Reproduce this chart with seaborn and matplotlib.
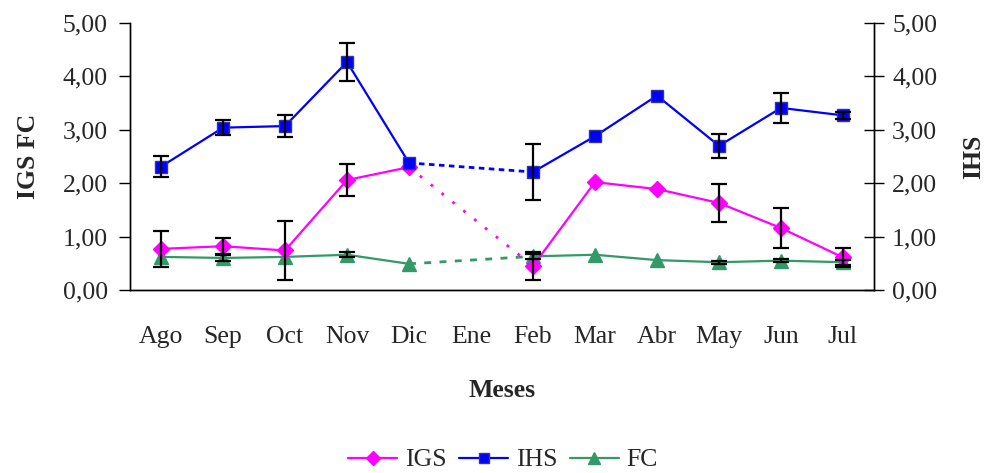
import numpy as np
import pandas as pd
import matplotlib
matplotlib.use("Agg")
import matplotlib.pyplot as plt
import seaborn as sns
from matplotlib.lines import Line2D

months = ["Ago", "Sep", "Oct", "Nov", "Dic", "Ene", "Feb", "Mar", "Abr", "May", "Jun", "Jul"]
igs = [0.77, 0.82, 0.74, 2.06, 2.30, np.nan, 0.45, 2.02, 1.89, 1.63, 1.16, 0.61]
igs_err = [0.33, 0.15, 0.55, 0.30, 0.0, np.nan, 0.27, 0.0, 0.0, 0.35, 0.37, 0.18]
ihs = [2.31, 3.04, 3.07, 4.27, 2.38, np.nan, 2.21, 2.88, 3.64, 2.70, 3.41, 3.27]
ihs_err = [0.20, 0.14, 0.20, 0.35, 0.0, np.nan, 0.52, 0.0, 0.0, 0.23, 0.28, 0.07]
fc = [0.62, 0.60, 0.62, 0.66, 0.49, np.nan, 0.63, 0.66, 0.56, 0.52, 0.55, 0.52]
fc_err = [0.0, 0.05, 0.0, 0.05, 0.0, np.nan, 0.05, 0.0, 0.0, 0.03, 0.03, 0.05]

sns.set_theme(style="white")
plt.rcParams["font.family"] = ["Liberation Serif", "DejaVu Serif"]

C_IGS = "#FF00FF"
C_IHS = "#0000FF"
C_FC = "#339966"
FS = 18.5

df = pd.DataFrame({"pos": np.arange(len(months)), "mes": months,
                   "IGS": igs, "IGS_err": igs_err,
                   "IHS": ihs, "IHS_err": ihs_err,
                   "FC": fc, "FC_err": fc_err})

fig = plt.figure(figsize=(9.89, 4.73), dpi=100)
ax = fig.add_axes([130 / 989, 1 - 290 / 473, 744 / 989, 267 / 473])
ax2 = ax.twinx()

styles = {
    "IGS": dict(color=C_IGS, marker="D", markersize=8.5, mec=C_IGS, gap_ls=(0, (1, 4)), gap_lw=2.0, axis=ax),
    "IHS": dict(color=C_IHS, marker="s", markersize=8, mec="#333399", gap_ls=(0, (2, 1.6)), gap_lw=2.0, axis=ax2),
    "FC": dict(color=C_FC, marker="^", markersize=10, mec=C_FC, gap_ls=(0, (2.5, 3)), gap_lw=2.0, axis=ax),
}

gap_idx = df.index[df["IGS"].isna()][0]
for name in ["FC", "IGS", "IHS"]:
    st = styles[name]
    a = st["axis"]
    first = df.iloc[:gap_idx]
    second = df.iloc[gap_idx + 1:]
    bridge = df.iloc[[gap_idx - 1, gap_idx + 1]]
    sns.lineplot(data=bridge, x="pos", y=name, ax=a, color=st["color"],
                 linestyle=st["gap_ls"], linewidth=st["gap_lw"], zorder=2)
    for part in (first, second):
        sns.lineplot(data=part, x="pos", y=name, ax=a, color=st["color"],
                     linewidth=1.6, marker=st["marker"], markersize=st["markersize"],
                     markeredgecolor=st["mec"], markeredgewidth=1.0, zorder=3)
    valid = df[df[name + "_err"] > 0]
    a.errorbar(valid["pos"], valid[name], yerr=valid[name + "_err"], fmt="none",
               ecolor="black", elinewidth=1.6, capsize=6, capthick=1.6, zorder=5)

for a in (ax, ax2):
    a.set_ylim(0, 5)
    a.set_xlim(-0.5, len(months) - 0.5)
    a.set_yticks(np.arange(0, 5.01, 1))
    a.set_yticklabels([f"{v:.2f}".replace(".", ",") for v in np.arange(0, 5.01, 1)], fontsize=FS)
    a.grid(False)
    a.set_facecolor("none")
    a.spines["top"].set_visible(False)
    for s in a.spines.values():
        s.set_color("black")
        s.set_linewidth(1.0)

ax.set_xticks(df["pos"])
ax.set_xticklabels(months, fontsize=FS)
ax.set_xticks(np.arange(-0.5, len(months), 1), minor=True)
ax.tick_params(axis="x", which="major", length=0, pad=26)
ax.tick_params(axis="x", which="minor", direction="out", length=8, width=1, color="black")
ax.tick_params(axis="y", direction="out", length=8, width=1, color="black", left=True, pad=8)
ax2.tick_params(axis="y", direction="inout", length=14, width=1, color="black", right=True, pad=6)

ax.set_xlabel("Meses", fontsize=FS, fontweight="bold", labelpad=22)
ax.set_ylabel("IGS FC", fontsize=FS, fontweight="bold", labelpad=16)
ax2.set_ylabel("IHS", fontsize=FS, fontweight="bold", labelpad=18)

handles = [
    Line2D([], [], color=C_IGS, marker="D", markersize=7, linewidth=1.6),
    Line2D([], [], color=C_IHS, marker="s", markersize=7, markeredgecolor="#333399", linewidth=1.6),
    Line2D([], [], color=C_FC, marker="^", markersize=8, linewidth=1.6),
]
fig.legend(handles, ["IGS", "IHS", "FC"], loc="center", bbox_to_anchor=(503 / 989, 1 - 460 / 473),
           ncol=3, frameon=False, fontsize=FS, handlelength=1.9, handletextpad=0.3, columnspacing=0.5)

fig.savefig("out.png", dpi=100)
